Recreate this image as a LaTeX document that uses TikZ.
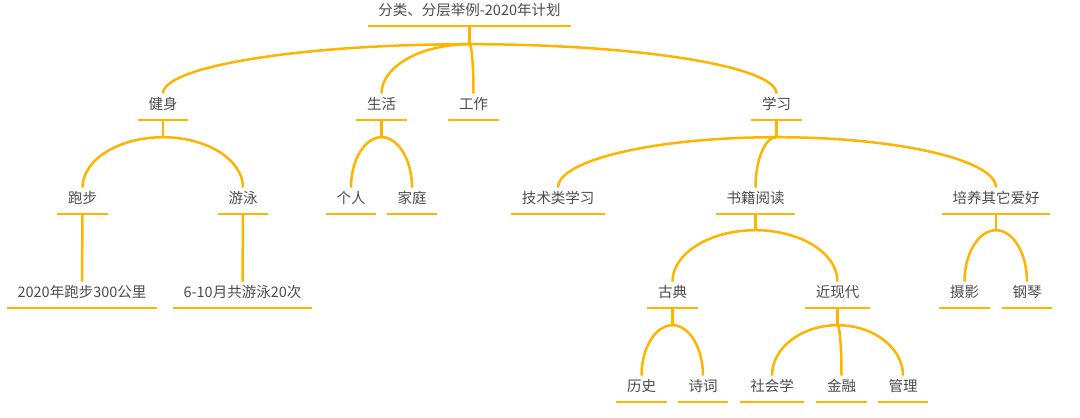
\documentclass[tikz,border=0pt]{standalone}
\usepackage{fontspec}
\setmainfont{Noto Sans CJK SC}
\usetikzlibrary{calc}

\definecolor{branchorange}{RGB}{255,180,0}
\definecolor{labelgray}{RGB}{75,75,75}

\begin{document}
\begin{tikzpicture}[x=1pt, y=-1pt,
  topic/.style={anchor=base, text=labelgray, font=\fontsize{14.5pt}{16pt}\selectfont,
    text height=13.75pt, text depth=8.5pt, inner xsep=10.5pt, inner ysep=2pt},
  link/.style={draw=branchorange, line width=2.5pt},
  branch/.style={to path={.. controls ($(\tikztostart)!0.55!(\tikztotarget |- \tikztostart)$)
    and ($(\tikztotarget)!0.55!(\tikztotarget |- \tikztostart)$) .. (\tikztotarget)}}]
  \useasboundingbox (0,0) rectangle (1080,418);

  % Root
  \node[topic] (root) at (469.5,15.5) {分类、分层举例-2020年计划};

  % First level
  \node[topic] (fit) at (163,109.5) {健身};
  \node[topic] (life) at (381.5,109.5) {生活};
  \node[topic] (work) at (473.5,109.5) {工作};
  \node[topic] (study) at (776.5,109.5) {学习};

  % Second level
  \node[topic] (run) at (82.5,203.5) {跑步};
  \node[topic] (swim) at (243,203.5) {游泳};
  \node[topic] (self) at (351,203.5) {个人};
  \node[topic] (family) at (412,203.5) {家庭};
  \node[topic] (tech) at (558,203.5) {技术类学习};
  \node[topic] (books) at (755.5,203.5) {书籍阅读};
  \node[topic] (hobby) at (996,203.5) {培养其它爱好};

  % Third level
  \node[topic] (runGoal) at (82,297.5) {2020年跑步300公里};
  \node[topic] (swimGoal) at (242.5,297.5) {6-10月共游泳20次};
  \node[topic] (classic) at (672.5,297.5) {古典};
  \node[topic] (modern) at (837.5,297.5) {近现代};
  \node[topic] (photo) at (964.5,297.5) {摄影};
  \node[topic] (piano) at (1027,297.5) {钢琴};

  % Fourth level
  \node[topic] (history) at (641.5,391.5) {历史};
  \node[topic] (poetry) at (703,391.5) {诗词};
  \node[topic] (sociology) at (772,391.5) {社会学};
  \node[topic] (finance) at (841.5,391.5) {金融};
  \node[topic] (management) at (903,391.5) {管理};

  % Underlines
  \foreach \n in {root,fit,life,work,study,run,swim,self,family,tech,books,hobby,
    runGoal,swimGoal,classic,modern,photo,piano,history,poetry,sociology,finance,management}
    \draw[link] (\n.south west) -- (\n.south east);

  % Root branches
  \draw[link] (root.south) -- ++(0,18) coordinate (rootJ);
  \draw[link] (rootJ) to[branch] (fit.north);
  \draw[link] (rootJ) to[branch] (life.north);
  \draw[link] (rootJ) to[branch] (work.north);
  \draw[link] (rootJ) to[branch] (study.north);

  % Fitness
  \draw[link] (fit.south) -- ++(0,17) coordinate (fitJ);
  \draw[link] (fitJ) to[branch] (run.north);
  \draw[link] (fitJ) to[branch] (swim.north);
  \draw[link] (run.south) -- (runGoal.north);
  \draw[link] (swim.south) -- (swimGoal.north);

  % Life
  \draw[link] (life.south) -- ++(0,17) coordinate (lifeJ);
  \draw[link] (lifeJ) to[branch] (self.north);
  \draw[link] (lifeJ) to[branch] (family.north);

  % Study
  \draw[link] (study.south) -- ++(0,17) coordinate (studyJ);
  \draw[link] (studyJ) to[branch] (tech.north);
  \draw[link] (studyJ) to[branch] (books.north);
  \draw[link] (studyJ) to[branch] (hobby.north);

  % Reading
  \draw[link] (books.south) -- ++(0,16) coordinate (booksJ);
  \draw[link] (booksJ) to[branch] (classic.north);
  \draw[link] (booksJ) to[branch] (modern.north);

  % Hobbies
  \draw[link] (hobby.south) -- ++(0,16) coordinate (hobbyJ);
  \draw[link] (hobbyJ) to[branch] (photo.north);
  \draw[link] (hobbyJ) to[branch] (piano.north);

  % Classic
  \draw[link] (classic.south) -- ++(0,17) coordinate (classicJ);
  \draw[link] (classicJ) to[branch] (history.north);
  \draw[link] (classicJ) to[branch] (poetry.north);

  % Modern
  \draw[link] (modern.south) -- ++(0,17) coordinate (modernJ);
  \draw[link] (modernJ) to[branch] (sociology.north);
  \draw[link] (modernJ) to[branch] (finance.north);
  \draw[link] (modernJ) to[branch] (management.north);
\end{tikzpicture}
\end{document}
